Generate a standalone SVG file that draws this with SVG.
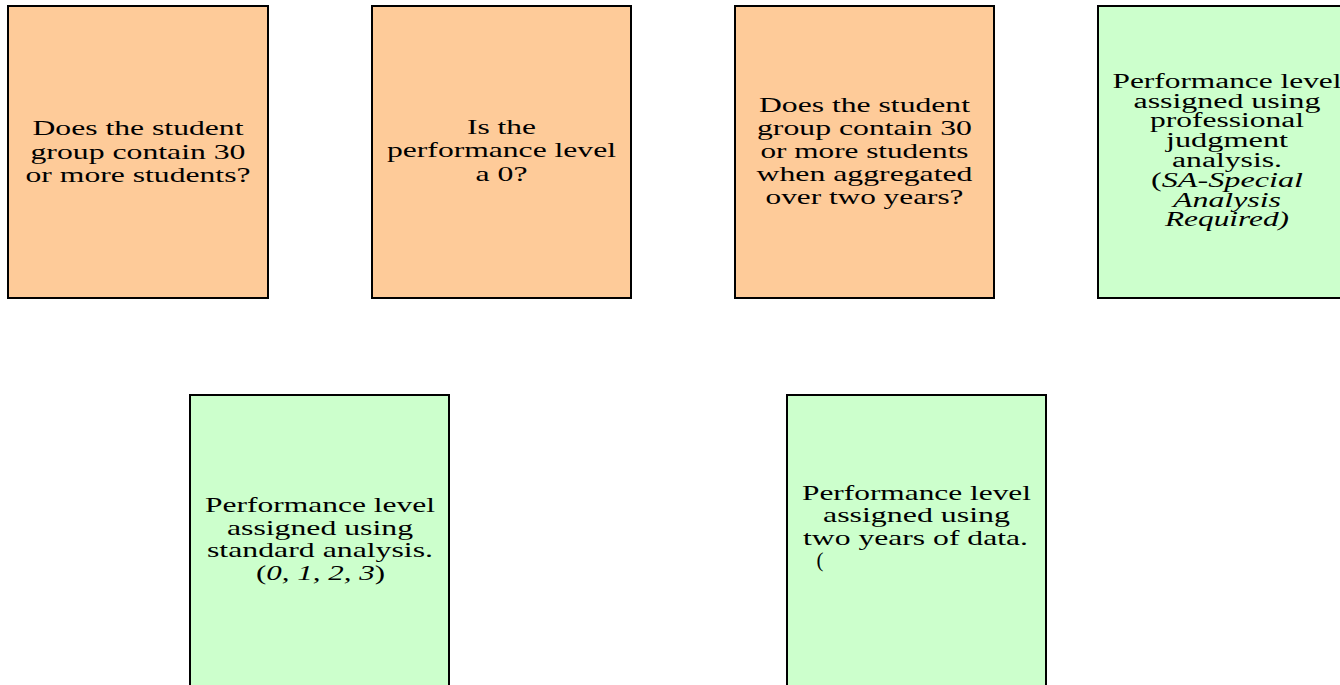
<svg xmlns="http://www.w3.org/2000/svg" width="1340" height="685" viewBox="0 0 1340 685">
<style>
.q{fill:#FECB99;stroke:#000;stroke-width:2}
.r{fill:#CCFFCC;stroke:#000;stroke-width:2}
text{font-family:"Liberation Serif","Times New Roman",serif;font-size:21px;fill:#000;text-anchor:middle}
.s{font-size:20px}
.i{font-style:italic}
</style>
<rect width="1340" height="685" fill="#fff"/>
<g id="connectors"></g>
<g id="q1">
<rect class="q" x="8" y="6" width="260" height="292"/>
<text x="138" y="135" textLength="211" lengthAdjust="spacingAndGlyphs">Does the student</text>
<text x="138" y="158.5" textLength="215" lengthAdjust="spacingAndGlyphs">group contain 30</text>
<text x="138" y="182" textLength="225" lengthAdjust="spacingAndGlyphs">or more students?</text>
</g>
<g id="q2">
<rect class="q" x="372" y="6" width="259" height="292"/>
<text x="501.5" y="134" textLength="69" lengthAdjust="spacingAndGlyphs">Is the</text>
<text x="501.5" y="157" textLength="229" lengthAdjust="spacingAndGlyphs">performance level</text>
<text x="501.5" y="180.5" textLength="52" lengthAdjust="spacingAndGlyphs">a 0?</text>
</g>
<g id="q3">
<rect class="q" x="735" y="6" width="259" height="292"/>
<text x="864.5" y="111.5" textLength="211" lengthAdjust="spacingAndGlyphs">Does the student</text>
<text x="864.5" y="134.5" textLength="215" lengthAdjust="spacingAndGlyphs">group contain 30</text>
<text x="864.5" y="157.5" textLength="208" lengthAdjust="spacingAndGlyphs">or more students</text>
<text x="864.5" y="181" textLength="216" lengthAdjust="spacingAndGlyphs">when aggregated</text>
<text x="864.5" y="204" textLength="198" lengthAdjust="spacingAndGlyphs">over two years?</text>
</g>
<g id="r1">
<rect class="r" x="1098" y="6" width="259" height="292"/>
<text class="s" x="1227" y="88" textLength="229" lengthAdjust="spacingAndGlyphs">Performance level</text>
<text class="s" x="1227" y="107.5" textLength="187" lengthAdjust="spacingAndGlyphs">assigned using</text>
<text class="s" x="1227" y="127" textLength="154" lengthAdjust="spacingAndGlyphs">professional</text>
<text class="s" x="1227" y="147" textLength="122" lengthAdjust="spacingAndGlyphs">judgment</text>
<text class="s" x="1227" y="167" textLength="110" lengthAdjust="spacingAndGlyphs">analysis.</text>
<text class="s" x="1227" y="187" textLength="152" lengthAdjust="spacingAndGlyphs">(<tspan class="i">SA-Special</tspan></text>
<text class="s i" x="1227" y="206.5" textLength="108" lengthAdjust="spacingAndGlyphs">Analysis</text>
<text class="s i" x="1227" y="226" textLength="124" lengthAdjust="spacingAndGlyphs">Required)</text>
</g>
<g id="r2">
<rect class="r" x="190" y="395" width="259" height="300"/>
<text x="320" y="511.5" textLength="230" lengthAdjust="spacingAndGlyphs">Performance level</text>
<text x="320" y="535" textLength="186" lengthAdjust="spacingAndGlyphs">assigned using</text>
<text x="320" y="557" textLength="226" lengthAdjust="spacingAndGlyphs">standard analysis.</text>
<text x="320.5" y="579.5" textLength="129" lengthAdjust="spacingAndGlyphs">(<tspan class="i">0, 1, 2, 3</tspan>)</text>
</g>
<g id="r3">
<rect class="r" x="787" y="395" width="259" height="300"/>
<text x="916.5" y="499.5" textLength="229" lengthAdjust="spacingAndGlyphs">Performance level</text>
<text x="916.5" y="522" textLength="187" lengthAdjust="spacingAndGlyphs">assigned using</text>
<text x="915.5" y="545" textLength="225" lengthAdjust="spacingAndGlyphs">two years of data.</text>
<text x="820" y="567">(</text>
</g>
</svg>
